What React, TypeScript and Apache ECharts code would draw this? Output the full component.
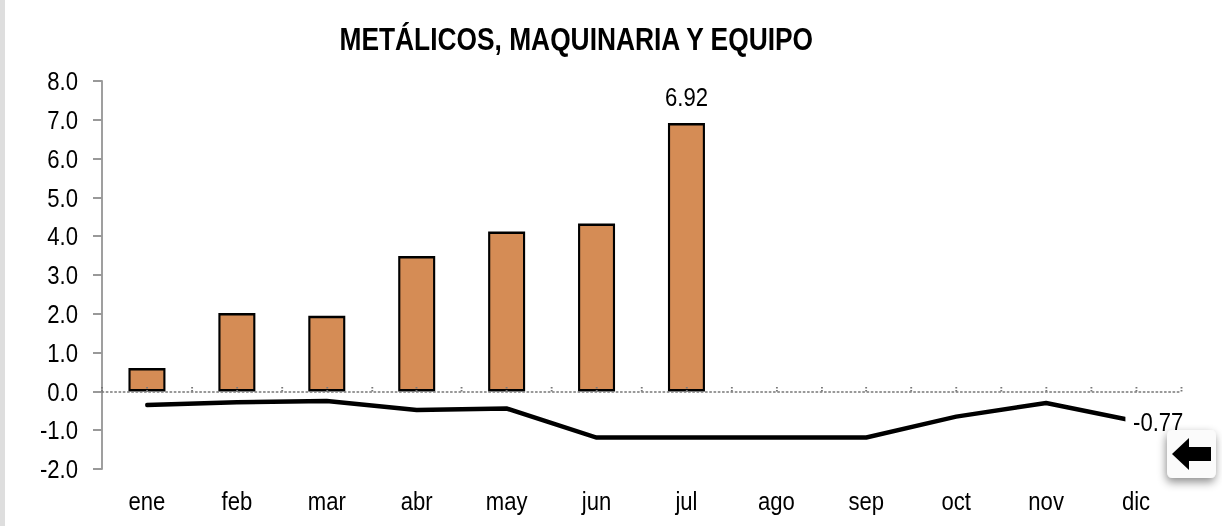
import React, { useEffect, useRef } from "react";
import * as echarts from "echarts";

const titleText = "METÁLICOS, MAQUINARIA Y EQUIPO";
const categories = ["ene", "feb", "mar", "abr", "may", "jun", "jul", "ago", "sep", "oct", "nov", "dic"];
const barValues: (number | null)[] = [0.6, 2.02, 1.95, 3.49, 4.12, 4.33, 6.92, null, null, null, null, null];
const lineValues = [-0.35, -0.28, -0.25, -0.48, -0.44, -1.19, -1.19, -1.19, -1.19, -0.65, -0.3, -0.77];
const labeledBar = 6;
const labeledPoint = 11;
const font = "'Liberation Sans', Arial, sans-serif";
// The reference's type is horizontally condensed: the chart is laid out wider and squeezed to the page.
const squeeze = 0.85;
const sx = (x: number) => x / squeeze;

export default function App() {
  const ref = useRef<HTMLDivElement>(null);
  useEffect(() => {
    const chart = echarts.init(ref.current!, undefined, { renderer: "svg" });
    chart.setOption({
      animation: false,
      backgroundColor: "#ffffff",
      title: {
        text: titleText,
        left: sx(572),
        top: 19,
        textAlign: "center",
        textStyle: { fontFamily: font, fontSize: 31, fontWeight: "bold", color: "#000" },
      },
      grid: { left: sx(102), top: 81, width: sx(1079), height: 388, containLabel: false },
      xAxis: [
        {
          type: "category",
          data: categories,
          position: "bottom",
          axisLine: { show: false, onZero: false },
          axisTick: { show: false },
          axisLabel: { fontFamily: font, fontSize: 26, color: "#000", margin: 19 },
        },
        {
          type: "category",
          data: categories.flatMap((c) => [c, c]),
          position: "top",
          z: 5,
          axisLine: { show: true, onZero: true, lineStyle: { color: "#777", width: 1.5, type: [2, 3] } },
          axisTick: { show: true, alignWithLabel: false, interval: 0, length: 6, lineStyle: { color: "#777", width: 2.2, type: [1.5, 1.5] } },
          axisLabel: { show: false },
        },
      ],
      yAxis: {
        type: "value",
        min: -2,
        max: 8,
        interval: 1,
        splitLine: { show: false },
        axisLine: { show: true, onZero: false, lineStyle: { color: "#999", width: 2.2 } },
        axisTick: { show: true, length: sx(9), lineStyle: { color: "#999", width: 2 } },
        axisLabel: {
          fontFamily: font,
          fontSize: 26,
          color: "#000",
          margin: sx(24),
          formatter: (v: number) => v.toFixed(1),
        },
      },
      series: [
        {
          type: "bar",
          xAxisIndex: 0,
          barWidth: sx(37),
          itemStyle: { color: "#D58C55", borderColor: "#000", borderWidth: 2.5 },
          data: barValues.map((v, i) => ({
            value: v,
            label: {
              show: i === labeledBar,
              position: "top",
              distance: 13,
              fontFamily: font,
              fontSize: 26,
              color: "#000",
              formatter: (p: any) => p.value.toFixed(2),
            },
          })),
        },
        {
          type: "line",
          xAxisIndex: 0,
          showSymbol: true,
          showAllSymbol: true,
          lineStyle: { color: "#000", width: 4.5, cap: "round", join: "round" },
          itemStyle: { color: "#000" },
          data: lineValues.map((v, i) => ({
            value: v,
            symbol: i === labeledPoint ? "circle" : "none",
            symbolSize: 1,
            label: {
              show: i === labeledPoint,
              position: "right",
              offset: [-18, 1],
              padding: [0, 0, 0, 9],
              backgroundColor: "#fff",
              fontFamily: font,
              fontSize: 26,
              color: "#000",
              formatter: (p: any) => p.value.toFixed(2),
            },
          })),
        },
      ],
      graphic: [
        { type: "rect", z: 10, shape: { x: 0, y: 0, width: sx(5), height: 526 }, style: { fill: "#dedede" } },
        {
          type: "rect",
          z: 20,
          shape: { x: sx(1167), y: 430, width: sx(49), height: 48, r: 6 },
          style: { fill: "#fbfbfb", shadowBlur: 10, shadowColor: "rgba(0,0,0,0.45)", shadowOffsetX: -1, shadowOffsetY: 4 },
        },
        {
          type: "polygon",
          z: 21,
          shape: {
            points: [
              [sx(1172), 454],
              [sx(1189), 438],
              [sx(1189), 447],
              [sx(1211), 447],
              [sx(1211), 461],
              [sx(1189), 461],
              [sx(1189), 470],
            ],
          },
          style: { fill: "#000" },
        },
      ],
    });
    return () => chart.dispose();
  }, []);
  return (
    <div style={{ position: "absolute", left: 0, top: 0, width: 1222, height: 526, overflow: "hidden" }}>
      <div
        ref={ref}
        style={{ width: sx(1222), height: 526, transform: `scaleX(${squeeze})`, transformOrigin: "0 0" }}
      />
    </div>
  );
}
